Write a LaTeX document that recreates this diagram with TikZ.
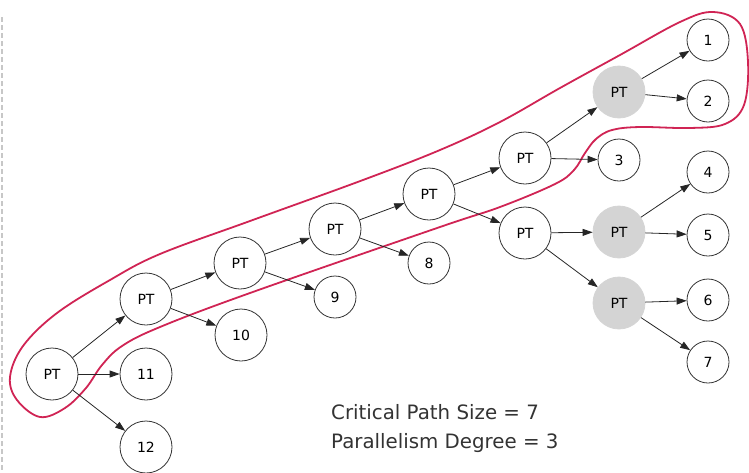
\documentclass[tikz,border=0pt]{standalone}
\usepackage{fontspec}
\setmainfont{DejaVu Sans}
\usetikzlibrary{arrows.meta}
\definecolor{loopred}{RGB}{208,36,84}
\definecolor{ptgray}{RGB}{212,212,212}
\tikzset{
  ptnode/.style={circle,draw=black!80,line width=0.8pt,minimum size=52pt,inner sep=0pt,font=\fontsize{14}{14}\selectfont},
  ptgraynode/.style={ptnode,fill=ptgray,draw=ptgray},
  leafnode/.style={circle,draw=black!80,line width=0.8pt,minimum size=42pt,inner sep=0pt,font=\fontsize{14}{14}\selectfont},
  bigleaf/.style={leafnode,minimum size=52pt},
  edge/.style={-{Triangle[length=10pt,width=7pt]},draw=black!85,line width=0.8pt},
  label/.style={anchor=west,inner sep=0pt,font=\fontsize{19.8}{19.8}\selectfont,text=black!80}
}
\begin{document}
\begin{tikzpicture}[x=1pt,y=-1pt]
\useasboundingbox (0,0) rectangle (749,472);
% left dashed border
\draw[black!22,line width=1.6pt,dash pattern=on 5pt off 3pt] (2,17) -- (2,472);
% red loop
\draw[loopred,line width=1.8pt] plot[smooth cycle,tension=0.6] coordinates {
 (10,377) (23,346) (57,313) (110,280) (160,254) (250,221) (363,180) (440,150)
 (500,122) (560,88) (620,55) (680,22) (713,12) (740,24) (748,62) (744,105) (725,124)
 (690,128) (640,127) (612,130) (596,139) (585,153) (574,170) (555,184) (500,207) (440,227) (250,293)
 (160,327) (122,346) (102,365) (86,388) (65,408) (40,417) (17,400)};
% nodes
\node[ptnode] (p0) at (52,374) {PT};
\node[bigleaf] (n11) at (146,374) {11};
\node[bigleaf] (n12) at (146,447) {12};
\node[ptnode] (p1) at (146,299) {PT};
\node[bigleaf] (n10) at (241,335) {10};
\node[ptnode] (p2) at (240,263) {PT};
\node[leafnode] (n9) at (335,297) {9};
\node[ptnode] (p3) at (335,229) {PT};
\node[leafnode] (n8) at (429,263) {8};
\node[ptnode] (p4) at (429,194) {PT};
\node[ptnode] (p5) at (525,158) {PT};
\node[leafnode] (n3) at (619,160) {3};
\node[ptgraynode] (p6) at (619,92) {PT};
\node[leafnode] (n1) at (708,40) {1};
\node[leafnode] (n2) at (708,101) {2};
\node[ptnode] (p7) at (525,233) {PT};
\node[ptgraynode] (p8) at (619,232) {PT};
\node[leafnode] (n4) at (708,172) {4};
\node[leafnode] (n5) at (708,235) {5};
\node[ptgraynode] (p9) at (619,303) {PT};
\node[leafnode] (n6) at (708,300) {6};
\node[leafnode] (n7) at (708,362) {7};
% edges
\draw[edge] (p0) -- (p1);
\draw[edge] (p0) -- (n11);
\draw[edge] (p0) -- (n12);
\draw[edge] (p1) -- (p2);
\draw[edge] (p1) -- (n10);
\draw[edge] (p2) -- (p3);
\draw[edge] (p2) -- (n9);
\draw[edge] (p3) -- (p4);
\draw[edge] (p3) -- (n8);
\draw[edge] (p4) -- (p5);
\draw[edge] (p4) -- (p7);
\draw[edge] (p5) -- (p6);
\draw[edge] (p5) -- (n3);
\draw[edge] (p6) -- (n1);
\draw[edge] (p6) -- (n2);
\draw[edge] (p7) -- (p8);
\draw[edge] (p7) -- (p9);
\draw[edge] (p8) -- (n4);
\draw[edge] (p8) -- (n5);
\draw[edge] (p9) -- (n6);
\draw[edge] (p9) -- (n7);
% text
\node[label] (t1) at (331,412) {Critical Path Size = 7};
\node[label] (t2) at (331,443) {Parallelism Degree = 3};
\end{tikzpicture}
\end{document}
